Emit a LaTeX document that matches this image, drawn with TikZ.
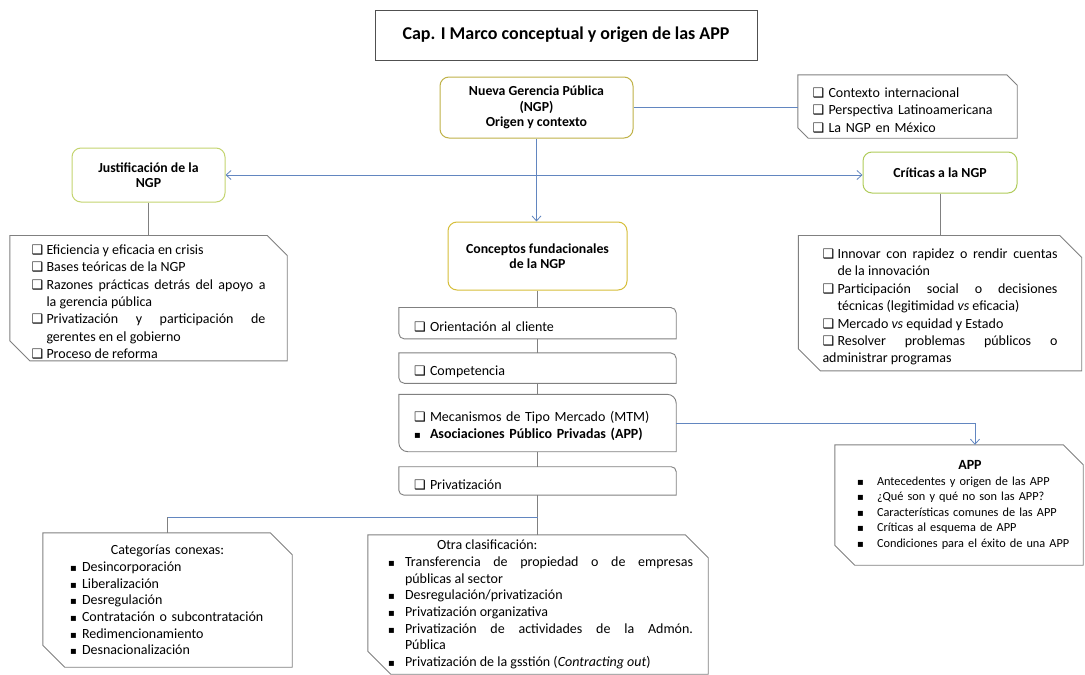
\documentclass[tikz,border=0pt]{standalone}
\usepackage{fontspec}
\setmainfont{Carlito}
\newfontfamily\symfont{DejaVu Sans}
\usetikzlibrary{arrows.meta, positioning}
\definecolor{my_blue}{RGB}{98, 134, 192}
\definecolor{my_gray}{RGB}{128, 128, 128}
\definecolor{my_dark}{RGB}{80, 80, 80}
\definecolor{my_olive}{RGB}{192, 178, 72}
\definecolor{my_lime}{RGB}{196, 212, 112}
\definecolor{my_green}{RGB}{176, 204, 90}
\definecolor{my_gold}{RGB}{214, 190, 58}
\setlength\parindent{0pt}
\newlength\itw
\newlength\itpre
\setlength\itw{16pt}
\setlength\itpre{0pt}
\newcommand{\cksym}{{\symfont\fontsize{13}{13}\selectfont\char"2751}}
\newcommand{\blsym}{{\symfont\fontsize{10}{10}\selectfont\char"25AA}}
\newcommand{\ck}{\par\noindent\hangindent=\itw\hangafter=1\makebox[\itw][l]{\hspace*{\itpre}\cksym}}
\newcommand{\bl}{\par\noindent\hangindent=\itw\hangafter=1\makebox[\itw][l]{\hspace*{\itpre}\blsym}}
% outline with snipped top right / bottom left corners
\newcommand{\snipframe}[2]{%
  \draw[frameline] (#1.north west) -- ([xshift=-#2]#1.north east) -- ([yshift=-#2]#1.north east)
    -- (#1.south east) -- ([xshift=#2]#1.south west) -- ([yshift=#2]#1.south west) -- cycle;}
% outline with rounded top right / bottom left corners
\newcommand{\diagframe}[2]{%
  \draw[frameline] (#1.north west) -- ([xshift=-#2]#1.north east) arc[start angle=90, end angle=0, radius=#2]
    -- (#1.south east) -- ([xshift=#2]#1.south west) arc[start angle=270, end angle=180, radius=#2] -- cycle;}
\tikzset{
  titlebox/.style = {draw=my_dark, line width=1pt, minimum width=382pt, minimum height=50pt, inner sep=0pt, font=\fontsize{18}{20}\selectfont\bfseries},
  topic/.style = {draw, line width=1pt, rounded corners=9pt, fill=white, align=center, inner sep=0pt, font=\fontsize{13.8}{15.3}\selectfont\bfseries},
  listbox/.style = {inner sep=0pt, align=justify, font=\fontsize{14}{17.4}\selectfont},
  itembox/.style = {inner sep=0pt, align=left, text width=247pt, minimum width=277pt, font=\fontsize{14}{17}\selectfont},
  frameline/.style = {draw=my_gray, line width=0.9pt},
  link/.style = {draw=my_blue, line width=0.8pt},
  stem/.style = {draw=my_gray, line width=0.8pt},
  arrow/.style = {link, -{Straight Barb[length=5pt, width=9pt]}},
  dblarrow/.style = {link, {Straight Barb[length=5pt, width=9pt]}-{Straight Barb[length=5pt, width=9pt]}}
}

\begin{document}
\begin{tikzpicture}[x=1pt, y=-1pt]
  \path[use as bounding box, fill=white] (0,0) rectangle (1085,675);

  \node[titlebox] (title) at (566,35) {Cap. I Marco conceptual y origen de las APP};

  \node[topic, draw=my_olive, minimum width=193pt, minimum height=61pt] (ngp) at (536.5,107.5) {Nueva Gerencia Pública\\(NGP)\\Origen y contexto};
  \node[listbox, align=left, text width=190pt, minimum width=219pt, minimum height=63pt] (ctx) at (907.5,106.5)
    {\ck Contexto internacional \ck Perspectiva Latinoamericana \ck La NGP en México};

  \node[topic, draw=my_lime, minimum width=153pt, minimum height=54pt] (just) at (148.5,175) {Justificación de la\\NGP};
  \node[topic, draw=my_green, minimum width=154pt, minimum height=41pt] (crit) at (940,172.5) {Críticas a la NGP};
  \node[topic, draw=my_gold, minimum width=179pt, minimum height=68pt] (conc) at (537.5,256) {Conceptos fundacionales\\de la NGP};

  \node[listbox, text width=234pt, minimum width=277pt, minimum height=125pt, below=33pt of just] (justlist)
    {\setlength\itw{15pt}\ck Eficiencia y eficacia en crisis \ck Bases teóricas de la NGP
     \ck Razones prácticas detrás del apoyo a\linebreak la gerencia pública
     \ck Privatización y participación de\linebreak gerentes en el gobierno \ck Proceso de reforma};
  \node[listbox, text width=235pt, minimum width=283pt, minimum height=135pt, below=42pt of crit] (critlist)
    {\setlength\itw{15pt}\ck Innovar con rapidez o rendir cuentas\linebreak de la innovación
     \ck Participación social o decisiones\linebreak técnicas (legitimidad \textit{vs} eficacia)
     \ck Mercado \textit{vs} equidad y Estado \ck Resolver problemas públicos o\linebreak administrar programas};

  \node[itembox, minimum height=31pt, below=17pt of conc] (orient) {\ck Orientación al cliente};
  \node[itembox, minimum height=30pt, below=14pt of orient] (comp) {\ck Competencia};
  \node[itembox, minimum height=57pt, below=11pt of comp] (mtm)
    {\ck Mecanismos de Tipo Mercado (MTM)\bl\makebox[228pt][s]{\bfseries Asociaciones Público Privadas (APP)}};
  \node[itembox, minimum height=28pt, below=15pt of mtm] (priv) {\ck Privatización};
  \coordinate[below=22pt of priv] (fork);

  \node[listbox, align=left, text width=244pt, minimum width=248pt, minimum height=120pt, font=\fontsize{12.3}{15.5}\selectfont] (app) at (959,505)
    {\setlength\itpre{20pt}\setlength\itw{40pt}\makebox[\hsize]{\hspace{22pt}\fontsize{14}{15.5}\selectfont\bfseries APP}
     \bl Antecedentes y origen de las APP \bl ¿Qué son y qué no son las APP? \bl Características comunes de las APP
     \bl Críticas al esquema de APP \bl Condiciones para el éxito de una APP};
  \node[listbox, align=left, text width=195pt, minimum width=249pt, minimum height=134pt, font=\fontsize{14}{16.7}\selectfont] (cat) at (167.5,600)
    {\setlength\itw{12pt}\makebox[\hsize]{Categorías conexas:}
     \bl Desincorporación \bl Liberalización \bl Desregulación \bl Contratación o subcontratación
     \bl Redimencionamiento \bl Desnacionalización};
  \node[listbox, text width=310pt, minimum width=340pt, minimum height=139pt, font=\fontsize{14}{16.7}\selectfont] (otra) at (538,604.5)
    {\setlength\itpre{5pt}\setlength\itw{22pt}\hspace*{54pt}Otra clasificación:
     \bl Transferencia de propiedad o de empresas\linebreak públicas al sector \bl Desregulación/privatización
     \bl Privatización organizativa \bl Privatización de actividades de la Admón.\linebreak Pública
     \bl Privatización de la gsstión (\textit{Contracting out})};

  \snipframe{ctx}{10.5pt}
  \snipframe{justlist}{20pt}
  \snipframe{critlist}{22pt}
  \snipframe{app}{20pt}
  \snipframe{cat}{22pt}
  \snipframe{otra}{23pt}
  \diagframe{orient}{5.5pt}
  \diagframe{comp}{5.5pt}
  \diagframe{mtm}{9pt}
  \diagframe{priv}{5pt}

  \draw[link] (ngp.east) -- (ngp.east -| ctx.west);
  \draw[dblarrow] (just.east) -- (just.east -| crit.west);
  \draw[arrow] (ngp.south) -- (ngp.south |- conc.north);
  \draw[stem] (just.south) -- (justlist.north);
  \draw[stem] (crit.south) -- (critlist.north);
  \draw[stem] (conc.south) -- (orient.north);
  \draw[stem] (orient.south) -- (comp.north);
  \draw[stem] (comp.south) -- (mtm.north);
  \draw[stem] (mtm.south) -- (priv.north);
  \draw[arrow] (mtm.east) -| ([xshift=16pt]app.north);
  \draw[stem] (priv.south) -- (fork) -- (fork |- otra.north);
  \draw[link] (fork) -- (fork -| cat.north);
  \draw[stem] (fork -| cat.north) -- (cat.north);

\end{tikzpicture}
\end{document}
